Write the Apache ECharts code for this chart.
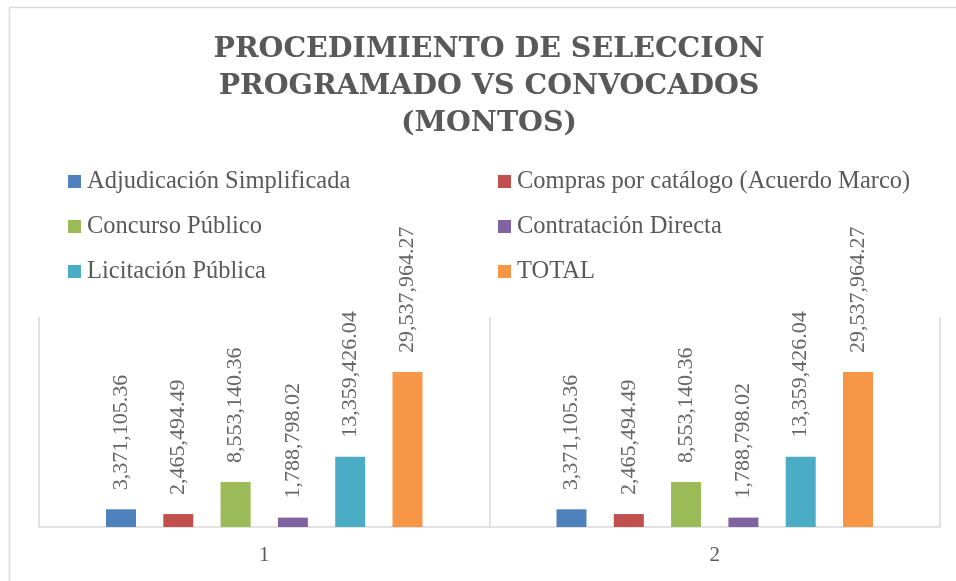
<!DOCTYPE html>
<html>
<head>
<meta charset="utf-8">
<script src="https://cdn.jsdelivr.net/npm/echarts@6/dist/echarts.min.js"></script>
<style>
  html, body { margin: 0; padding: 0; background: #ffffff; }
  #chart { width: 956px; height: 581px; }
</style>
</head>
<body>
<div id="chart"></div>
<script>
// categories on the x axis
const categories = ['1', '2']

// one value per category for each series
const adjudicacion = [3371105.36, 3371105.36]
const compras = [2465494.49, 2465494.49]
const concurso = [8553140.36, 8553140.36]
const contratacion = [1788798.02, 1788798.02]
const licitacion = [13359426.04, 13359426.04]
const total = [29537964.27, 29537964.27]

const seriesNames = [
  'Adjudicación Simplificada',
  'Compras por catálogo (Acuerdo Marco)',
  'Concurso Público',
  'Contratación Directa',
  'Licitación Pública',
  'TOTAL',
]
const seriesValues = [adjudicacion, compras, concurso, contratacion, licitacion, total]
const colors = ['#4F81BD', '#C0504D', '#9BBB59', '#8064A2', '#4BACC6', '#F79646']

const textColor = '#595959'
const lineColor = '#D9D9D9'
const serif = "'Liberation Serif', serif"

const formatValue = (v) =>
  v.toLocaleString('en-US', { minimumFractionDigits: 2, maximumFractionDigits: 2 })

const legendStyle = (left, data) => ({
  orient: 'vertical',
  left: left,
  top: 169,
  padding: 0,
  itemWidth: 13,
  itemHeight: 13,
  itemGap: 20,
  icon: 'rect',
  data: data,
  textStyle: {
    color: textColor,
    fontFamily: serif,
    fontSize: 24.5,
    lineHeight: 24,
    padding: [0, 0, 0, 1],
  },
})

const chart = echarts.init(document.getElementById('chart'))

chart.setOption({
  backgroundColor: '#ffffff',
  animation: false,
  title: {
    text: 'PROCEDIMIENTO DE SELECCION\nPROGRAMADO VS CONVOCADOS\n(MONTOS)',
    left: 489,
    top: 31,
    padding: 0,
    textAlign: 'center',
    textStyle: {
      color: textColor,
      fontFamily: "'DejaVu Serif', serif",
      fontWeight: 'bold',
      fontSize: 28.5,
      lineHeight: 37,
    },
  },
  legend: [
    legendStyle(68, [seriesNames[0], seriesNames[2], seriesNames[4]]),
    legendStyle(498, [seriesNames[1], seriesNames[3], seriesNames[5]]),
  ],
  graphic: [
    {
      type: 'rect',
      shape: { x: 9.5, y: 7.5, width: 2000, height: 2000 },
      style: { fill: 'none', stroke: lineColor, lineWidth: 1.5 },
      silent: true,
    },
  ],
  grid: {
    left: 39,
    right: 16,
    top: 317,
    bottom: 54,
  },
  xAxis: {
    type: 'category',
    data: categories,
    axisLine: { lineStyle: { color: lineColor, width: 1.5 } },
    axisTick: { show: false },
    splitLine: { show: true, lineStyle: { color: lineColor, width: 1.5 } },
    axisLabel: {
      color: textColor,
      fontFamily: serif,
      fontSize: 21,
      margin: 18,
    },
  },
  yAxis: {
    type: 'value',
    min: 0,
    max: 40000000,
    show: false,
  },
  series: seriesNames.map((name, i) => ({
    name: name,
    type: 'bar',
    data: seriesValues[i],
    barWidth: 30,
    barGap: '91%',
    itemStyle: { color: colors[i] },
    label: {
      show: true,
      position: 'top',
      distance: 17,
      rotate: 90,
      align: 'left',
      verticalAlign: 'middle',
      color: '#666666',
      fontFamily: serif,
      fontSize: 22,
      offset: [2, 0],
      formatter: (p) => formatValue(p.value),
    },
  })),
})
</script>
</body>
</html>
